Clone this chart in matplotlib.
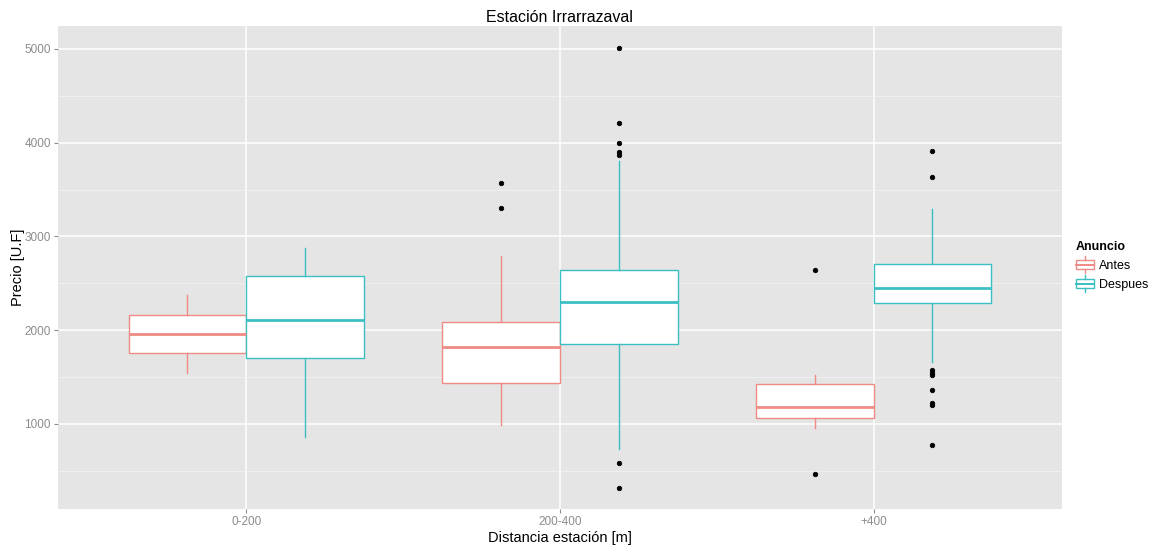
import matplotlib
matplotlib.use("Agg")
import matplotlib.pyplot as plt
from matplotlib.patches import Rectangle
from matplotlib.lines import Line2D
from matplotlib.legend_handler import HandlerBase

plt.rcParams['font.family'] = ['Liberation Sans', 'DejaVu Sans']

categories = ["0-200", "200-400", "+400"]
groups = ["Antes", "Despues"]
colors = {"Antes": "#EE8B84", "Despues": "#3CBFC3"}

# stats per group: whislo, q1, med, q3, whishi
antes_whislo = [1546, 993, 957]
antes_q1 = [1754, 1436, 1064]
antes_med = [1964, 1825, 1179]
antes_q3 = [2161, 2086, 1421]
antes_whishi = [2379, 2793, 1521]
antes_fliers = [[], [3575, 3307], [2639, 464]]

despues_whislo = [857, 736, 1664]
despues_q1 = [1704, 1850, 2286]
despues_med = [2114, 2296, 2446]
despues_q3 = [2579, 2646, 2707]
despues_whishi = [2879, 3807, 3293]
despues_fliers = [[], [5011, 4214, 3993, 3900, 3870, 582, 314],
                  [3907, 3629, 1578, 1548, 1518, 1361, 1220, 1200, 771]]

series = {
    "Antes": (antes_whislo, antes_q1, antes_med, antes_q3, antes_whishi, antes_fliers),
    "Despues": (despues_whislo, despues_q1, despues_med, despues_q3, despues_whishi, despues_fliers),
}

fig = plt.figure(figsize=(11.5, 5.48), dpi=100)
ax = fig.add_axes([0.0504, 0.0712, 0.873, 0.8814])
ax.set_facecolor("#E5E5E5")

box_w = 0.375
offsets = {"Antes": -box_w / 2, "Despues": box_w / 2}

for g in groups:
    wl, q1, med, q3, wh, fl = series[g]
    stats = []
    for i in range(len(categories)):
        stats.append(dict(whislo=wl[i], q1=q1[i], med=med[i], q3=q3[i], whishi=wh[i], fliers=fl[i]))
    pos = [i + 1 + offsets[g] for i in range(len(categories))]
    c = colors[g]
    ax.bxp(stats, positions=pos, widths=box_w, patch_artist=True, showcaps=False,
           boxprops=dict(facecolor="white", edgecolor=c, linewidth=1.0),
           medianprops=dict(color=c, linewidth=2.0),
           whiskerprops=dict(color=c, linewidth=1.0),
           flierprops=dict(marker="o", markerfacecolor="black", markeredgecolor="black",
                           markersize=3.2, markeredgewidth=0.6, linestyle="none"),
           manage_ticks=False, zorder=3)

ax.set_xlim(0.4, 3.6)
ax.set_ylim(93, 5245)
ax.set_xticks([1, 2, 3])
ax.set_xticklabels(categories)
ax.set_yticks([1000, 2000, 3000, 4000, 5000])
ax.set_yticks([500, 1500, 2500, 3500, 4500], minor=True)
ax.grid(which="major", color="white", linewidth=1.1, zorder=0)
ax.grid(which="minor", axis="y", color="#F2F2F2", linewidth=0.6, zorder=0)
ax.set_axisbelow(True)
for s in ax.spines.values():
    s.set_visible(False)
ax.tick_params(axis="both", which="major", colors="#8C8C8C", labelsize=8.5, length=3, width=0.8,
               labelcolor="#8C8C8C", pad=2)
ax.tick_params(axis="both", which="minor", length=0)

ax.set_title("Estación Irrarrazaval", fontsize=11.5, pad=3)
ax.set_xlabel("Distancia estación [m]", fontsize=10.5, labelpad=2)
ax.set_ylabel("Precio [U.F]", fontsize=10.5, labelpad=0)


class BoxHandler(HandlerBase):
    def __init__(self, color):
        super().__init__()
        self.color = color

    def create_artists(self, legend, orig_handle, xdescent, ydescent, width, height, fontsize, trans):
        x0, y0 = -xdescent, -ydescent
        r = Rectangle((x0 + width * 0.05, y0 + height * 0.2), width * 0.9, height * 0.6,
                      facecolor="white", edgecolor=self.color, linewidth=1.0, transform=trans)
        m = Line2D([x0 + width * 0.05, x0 + width * 0.95], [y0 + height * 0.5] * 2,
                   color=self.color, linewidth=1.4, transform=trans)
        w1 = Line2D([x0 + width * 0.5] * 2, [y0 - height * 0.1, y0 + height * 0.2], color=self.color,
                    linewidth=1.0, transform=trans)
        w2 = Line2D([x0 + width * 0.5] * 2, [y0 + height * 0.8, y0 + height * 1.1], color=self.color,
                    linewidth=1.0, transform=trans)
        return [r, m, w1, w2]


handles = [Rectangle((0, 0), 1, 1) for _ in groups]
handler_map = {h: BoxHandler(colors[g]) for h, g in zip(handles, groups)}
leg = fig.legend(handles, groups, handler_map=handler_map, loc="upper left",
                 bbox_to_anchor=(0.935, 0.560), frameon=False, fontsize=9,
                 title="Anuncio", handlelength=1.6, handleheight=1.4, handletextpad=0.3,
                 labelspacing=0.35, borderaxespad=0, borderpad=0)
leg.get_title().set_fontweight("bold")
leg.get_title().set_fontsize(9)
leg._legend_box.align = "left"

fig.savefig("out.png", dpi=100)
